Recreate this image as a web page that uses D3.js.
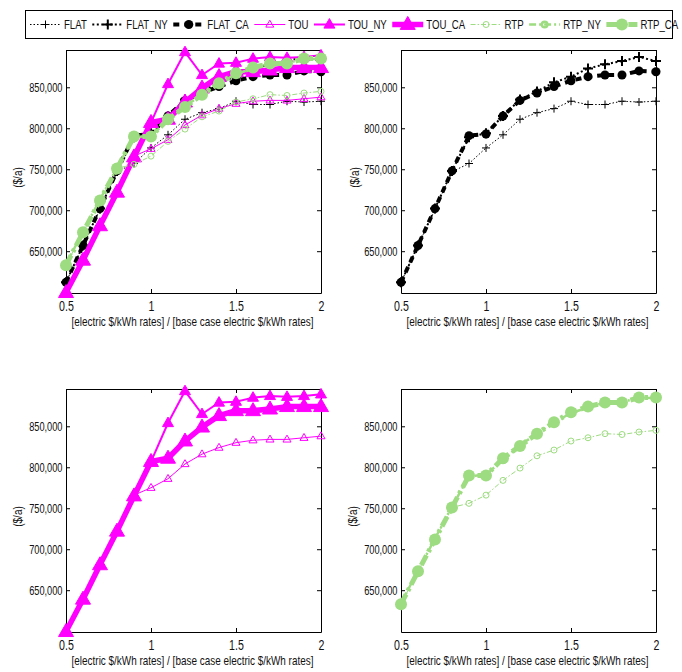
<!DOCTYPE html>
<html><head><meta charset="utf-8">
<script src="https://cdn.jsdelivr.net/npm/d3@7"></script>
<style>
body{margin:0;background:#fff}
svg{display:block}
text{font-family:"Liberation Sans",Arial,sans-serif;fill:#111}
</style>
</head><body>
<svg id="c" width="682" height="672"></svg>
<script>
// ---------- data ----------
const rateRatio = [0.5,0.6,0.7,0.8,0.9,1.0,1.1,1.2,1.3,1.4,1.5,1.6,1.7,1.8,1.9,2.0];
const FLAT    = [612000,657000,701000,747000,757000,776000,792000,811000,819000,824000,833000,829000,829000,833000,832000,833000];
const FLAT_NY = [612000,657000,702000,748000,789000,794000,815000,835000,845000,856000,863000,873000,878000,882000,887000,882000];
const FLAT_CA = [612000,657000,702000,748000,791000,793000,815000,834000,843000,851000,858000,863000,865000,865000,870000,869000];
const TOU     = [599500,639000,681000,722000,766000,775000,786000,804000,816000,824000,830000,833000,834000,834000,836000,838000];
const TOU_NY  = [599500,639000,681000,722000,766000,807000,854000,893000,865000,879000,880000,885000,887000,886000,887000,889000];
const TOU_CA  = [599500,639000,681000,722000,765000,807000,811000,832000,849000,863000,869000,869000,871000,874000,874000,874000];
const RTP     = [633000,673000,712000,751000,756000,766000,784000,799000,814000,821000,832000,836000,841000,840000,843000,845000];
const RTP_NY  = [634000,674000,713000,752000,789000,791000,809000,827000,841000,855000,866000,873000,879000,880000,884000,885000];
const RTP_CA  = [633000,673000,712000,751000,790000,790000,811000,826000,841000,855000,867000,874000,879000,879000,885000,885000];
const seriesNames = ["FLAT","FLAT_NY","FLAT_CA","TOU","TOU_NY","TOU_CA","RTP","RTP_NY","RTP_CA"];
const seriesValues = [FLAT,FLAT_NY,FLAT_CA,TOU,TOU_NY,TOU_CA,RTP,RTP_NY,RTP_CA];
const xTicks = [0.5,1,1.5,2];
const yTicks = [650000,700000,750000,800000,850000];
const yLabel = "($/a)";
const xLabel = "[electric $/kWh rates] / [base case electric $/kWh rates]";
const panelGroups = [seriesNames, ["FLAT","FLAT_NY","FLAT_CA"], ["TOU","TOU_NY","TOU_CA"], ["RTP","RTP_NY","RTP_CA"]];

// ---------- styles ----------
const SQ = 0.8; // horizontal condensing of the narrow reference typeface
const GREEN = "#9ddc80", MAG = "#ff00ff", BLK = "#000";
const styles = {
  FLAT:    {color:BLK, width:1,   dash:"1.5,2",    marker:"plus",   size:8,  mw:1},
  FLAT_NY: {color:BLK, width:2,   dash:"2,2.5",    marker:"plus",   size:10, mw:2},
  FLAT_CA: {color:BLK, width:4,   dash:"6,5",      marker:"dot",    size:9},
  TOU:     {color:MAG, width:1,   dash:null,       marker:"triO",   size:8,  mw:1},
  TOU_NY:  {color:MAG, width:2,   dash:null,       marker:"triF",   size:11},
  TOU_CA:  {color:MAG, width:5.5, dash:null,       marker:"triF",   size:15},
  RTP:     {color:GREEN,width:1,  dash:"5,2,1.5,2",marker:"circO",  size:7,  mw:1},
  RTP_NY:  {color:GREEN,width:2.5,dash:"7,3,2,3",  marker:"circO",  size:8,  mw:2.5},
  RTP_CA:  {color:GREEN,width:5,  dash:"11,4,3,4", marker:"dot",    size:12}
};

const svg = d3.select("#c");

function ctext(parent, x, y, str, size, anchor, rot, sq){
  const g = parent.append("g").attr("transform",`translate(${x},${y})${rot?` rotate(${rot})`:""} scale(${sq||SQ},1)`);
  return g.append("text").attr("text-anchor",anchor||"start").attr("font-size",size).text(str);
}

function drawMarker(g, cx, cy, st){
  const s = st.size;
  if(st.marker==="plus"){
    g.append("path").attr("d",`M${cx-s/2},${cy}H${cx+s/2}M${cx},${cy-s/2}V${cy+s/2}`)
      .attr("stroke",st.color).attr("stroke-width",st.mw).attr("fill","none");
  } else if(st.marker==="dot"){
    g.append("circle").attr("cx",cx).attr("cy",cy).attr("r",s/2).attr("fill",st.color);
  } else if(st.marker==="circO"){
    g.append("circle").attr("cx",cx).attr("cy",cy).attr("r",s/2-st.mw/2).attr("fill","none")
      .attr("stroke",st.color).attr("stroke-width",st.mw);
  } else {
    const h = s*0.866;
    const d = `M${cx},${cy-h*0.62}L${cx+s/2},${cy+h*0.38}L${cx-s/2},${cy+h*0.38}Z`;
    const p = g.append("path").attr("d",d);
    if(st.marker==="triF") p.attr("fill",st.color).attr("stroke",st.color).attr("stroke-width",1);
    else p.attr("fill","none").attr("stroke",st.color).attr("stroke-width",st.mw);
  }
}

function drawPanel(left, top, w, h, names, ylabX){
  const x = d3.scaleLinear().domain([0.5,2]).range([left,left+w]);
  const y = d3.scaleLinear().domain([599000,895500]).range([top+h,top]);
  const g = svg.append("g");
  const ax = (gen, tx, ty, labels) => {
    const a = g.append("g").attr("transform",`translate(${tx},${ty})`).call(gen);
    a.select(".domain").attr("stroke","#000").attr("stroke-width",1);
    a.selectAll(".tick line").attr("stroke","#000");
    if(!labels) a.selectAll(".tick text").remove();
    return a;
  };
  const bx = ax(d3.axisBottom(x).tickValues(xTicks).tickFormat(d3.format("")).tickSizeInner(-4).tickSizeOuter(0).tickPadding(8), 0, top+h, true);
  bx.selectAll(".tick text").attr("font-size",14).attr("fill","#111").attr("font-family",null)
    .attr("transform",`scale(0.76,1)`);
  ax(d3.axisTop(x).tickValues(xTicks).tickSizeInner(-4).tickSizeOuter(0), 0, top, false);
  const ly = ax(d3.axisLeft(y).tickValues(yTicks).tickFormat(d3.format(",")).tickSizeInner(-4).tickSizeOuter(0).tickPadding(4), left, 0, true);
  ly.selectAll(".tick text").attr("font-size",12).attr("fill","#111").attr("font-family",null)
    .attr("x",-3.5/0.77).attr("transform",`scale(0.77,1)`);
  ax(d3.axisRight(y).tickValues(yTicks).tickSizeInner(-4).tickSizeOuter(0), left+w, 0, false);

  ctext(g, ylabX+4, top+h/2+6, yLabel, 12.5, "middle", -90);
  ctext(g, left+w/2-1, top+h+33, xLabel, 13, "middle", 0, 0.765);

  names.forEach(n=>{
    const st = styles[n], vals = seriesValues[seriesNames.indexOf(n)];
    const line = d3.line().x((d,i)=>x(rateRatio[i])).y(d=>y(d));
    g.append("path").datum(vals).attr("d",line).attr("fill","none")
      .attr("stroke",st.color).attr("stroke-width",st.width)
      .attr("stroke-dasharray",st.dash).attr("stroke-linejoin","round");
    const mg = g.append("g");
    vals.forEach((v,i)=>drawMarker(mg, x(rateRatio[i]), y(v), st));
  });
}

drawPanel(66, 50, 255, 243, panelGroups[0], 18);
drawPanel(401, 50, 255, 243, panelGroups[1], 355);
drawPanel(66, 389, 255, 243, panelGroups[2], 18);
drawPanel(401, 389, 255, 243, panelGroups[3], 353);

// ---------- legend ----------
const lg = svg.append("g");
lg.append("rect").attr("x",25.5).attr("y",10.5).attr("width",647).attr("height",28)
  .attr("fill","#fff").attr("stroke","#000").attr("stroke-width",1);
let cx = 30;
const legY = 24.5;
seriesNames.forEach(n=>{
  const st = styles[n];
  lg.append("line").attr("x1",cx).attr("x2",cx+31).attr("y1",legY).attr("y2",legY)
    .attr("stroke",st.color).attr("stroke-width",st.width).attr("stroke-dasharray",st.dash);
  drawMarker(lg, cx+15.5, legY, st);
  const t = ctext(lg, cx+34, legY+4.5, n, 12.5, "start", 0, 0.77);
  cx = cx + 34 + t.node().getComputedTextLength()*0.77 + 5.5;
});
</script>
</body></html>
